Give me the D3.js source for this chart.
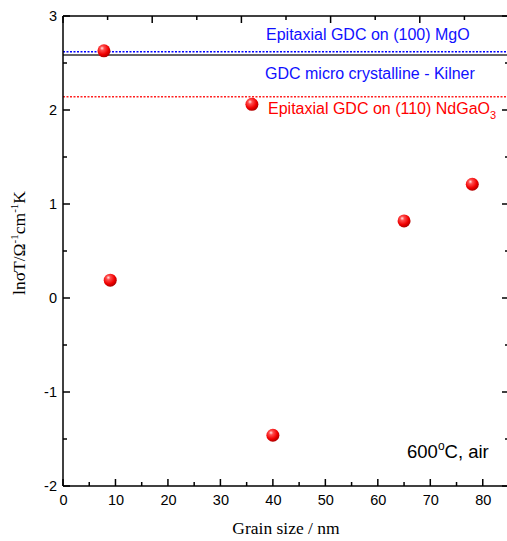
<!DOCTYPE html>
<html>
<head>
<meta charset="utf-8">
<script src="https://cdn.jsdelivr.net/npm/d3@7"></script>
<style>
body { margin: 0; background: #fff; }
svg { display: block; }
.tick text { font-family: Arial, "Liberation Sans", sans-serif; font-size: 14.5px; fill: #000; }
</style>
</head>
<body>
<div id="chart"></div>
<script>
// grain size (nm) vs ln(sigma T)
var grainSize = [7.8, 9, 36, 40, 65, 78];
var lnSigmaT = [2.63, 0.19, 2.06, -1.46, 0.82, 1.21];

// reference lines
var refNames = ["Epitaxial GDC on (100) MgO", "GDC micro crystalline - Kilner", "Epitaxial GDC on (110) NdGaO"];
var refValues = [2.62, 2.585, 2.14];
var refColors = ["#0000ff", "#333333", "#ff2020"];
var refLabelColors = ["#1010ff", "#1010ff", "#ff0000"];

var xTicks = [0, 10, 20, 30, 40, 50, 60, 70, 80];
var yTicks = [-2, -1, 0, 1, 2, 3];

var width = 507, height = 541;
var margin = {top: 16, left: 63, bottom: 55, right: -2};

var x = d3.scaleLinear().domain([0, 85]).range([margin.left, width - margin.right]);
var y = d3.scaleLinear().domain([-2, 3]).range([height - margin.bottom, margin.top]);

var svg = d3.select("#chart").append("svg")
	.attr("width", width).attr("height", height);

var grad = svg.append("defs").append("radialGradient").attr("id", "ball")
	.attr("cx", "40%").attr("cy", "35%").attr("r", "65%").attr("fx", "35%").attr("fy", "30%");
grad.append("stop").attr("offset", "0%").attr("stop-color", "#ffe6e6");
grad.append("stop").attr("offset", "25%").attr("stop-color", "#ff4d4d");
grad.append("stop").attr("offset", "70%").attr("stop-color", "#f00000");
grad.append("stop").attr("offset", "100%").attr("stop-color", "#b00000");

// reference lines
svg.append("g").selectAll("line").data(refValues).enter().append("line")
	.attr("x1", x(0)).attr("x2", x(85))
	.attr("y1", function(d) { return y(d); })
	.attr("y2", function(d) { return y(d); })
	.attr("stroke", function(d, i) { return refColors[i]; })
	.attr("stroke-width", 1.5)
	.attr("stroke-dasharray", function(d, i) { return i == 1 ? null : "2,1.5"; });

// labels for the lines
var labelX = [266, 265, 268];
var labelY = [40, 79, 114];
var labels = svg.append("g").attr("font-family", "Arial, 'Liberation Sans', sans-serif").attr("font-size", "16px");
refNames.forEach(function(name, i) {
	var t = labels.append("text").attr("x", labelX[i]).attr("y", labelY[i])
		.attr("fill", refLabelColors[i]).text(name);
	if (i == 2) t.append("tspan").attr("font-size", "11px").attr("dy", 5).text("3");
});

// axes
var ax = svg.append("g").attr("stroke", "#000").attr("stroke-width", 1.5);
var bottomAxis = d3.axisBottom(x).tickValues(xTicks).tickSize(0).tickPadding(7).tickFormat(d3.format("d"));
var gx = svg.append("g").attr("transform", "translate(0," + y(-2) + ")").call(bottomAxis);
gx.select(".domain").remove();
gx.selectAll("text").attr("dy", "0.8em");

var leftAxis = d3.axisLeft(y).tickValues(yTicks).tickSize(0).tickPadding(6)
	.tickFormat(function(d) { return String(d); });
var gy = svg.append("g").attr("transform", "translate(" + x(0) + ",0)").call(leftAxis);
gy.select(".domain").remove();

// frame
ax.append("line").attr("x1", x(0)).attr("x2", x(85)).attr("y1", y(-2)).attr("y2", y(-2));
ax.append("line").attr("x1", x(0)).attr("x2", x(85)).attr("y1", y(3)).attr("y2", y(3));
ax.append("line").attr("x1", x(0)).attr("x2", x(0)).attr("y1", y(3)).attr("y2", y(-2));
ax.append("line").attr("x1", x(85)).attr("x2", x(85)).attr("y1", y(3)).attr("y2", y(-2));

// inward ticks
d3.range(0, 86, 5).forEach(function(v) {
	var len = v % 10 == 0 ? 7 : 4;
	ax.append("line").attr("x1", x(v)).attr("x2", x(v)).attr("y1", y(-2)).attr("y2", y(-2) - len);
});
d3.range(0, 11).forEach(function(k) {
	var v = k * 8.5;
	var len = k % 2 == 0 ? 7 : 4;
	ax.append("line").attr("x1", x(v)).attr("x2", x(v)).attr("y1", y(3)).attr("y2", y(3) + len);
});
d3.range(-2, 3.01, 0.5).forEach(function(v) {
	var len = Math.abs(v % 1) < 0.01 ? 7 : 4;
	ax.append("line").attr("x1", x(0)).attr("x2", x(0) + len).attr("y1", y(v)).attr("y2", y(v));
	ax.append("line").attr("x1", x(85)).attr("x2", x(85) - len).attr("y1", y(v)).attr("y2", y(v));
});

// points
svg.append("g").selectAll("circle").data(grainSize).enter().append("circle")
	.attr("cx", function(d) { return x(d); })
	.attr("cy", function(d, i) { return y(lnSigmaT[i]); })
	.attr("r", 6.5).attr("fill", "url(#ball)");

// axis titles
svg.append("text").attr("x", 286).attr("y", 534).attr("text-anchor", "middle")
	.attr("font-family", "'Liberation Serif', 'Times New Roman', serif").attr("font-size", "17.5px")
	.text("Grain size / nm");

var yl = svg.append("text").attr("transform", "translate(25,243) rotate(-90)").attr("text-anchor", "middle")
	.attr("font-family", "'Liberation Serif', 'Times New Roman', serif").attr("font-size", "17.5px");
yl.append("tspan").text("ln\u03c3T/\u03a9");
yl.append("tspan").attr("font-size", "11px").attr("dy", -7).text("-1");
yl.append("tspan").attr("dy", 7).text("cm");
yl.append("tspan").attr("font-size", "11px").attr("dy", -7).text("-1");
yl.append("tspan").attr("dy", 7).text("K");

var cond = svg.append("text").attr("x", 407).attr("y", 458)
	.attr("font-family", "Arial, 'Liberation Sans', sans-serif").attr("font-size", "18.5px");
cond.append("tspan").text("600");
cond.append("tspan").attr("font-size", "12px").attr("dy", -8).text("o");
cond.append("tspan").attr("dy", 8).text("C, air");
</script>
</body>
</html>
